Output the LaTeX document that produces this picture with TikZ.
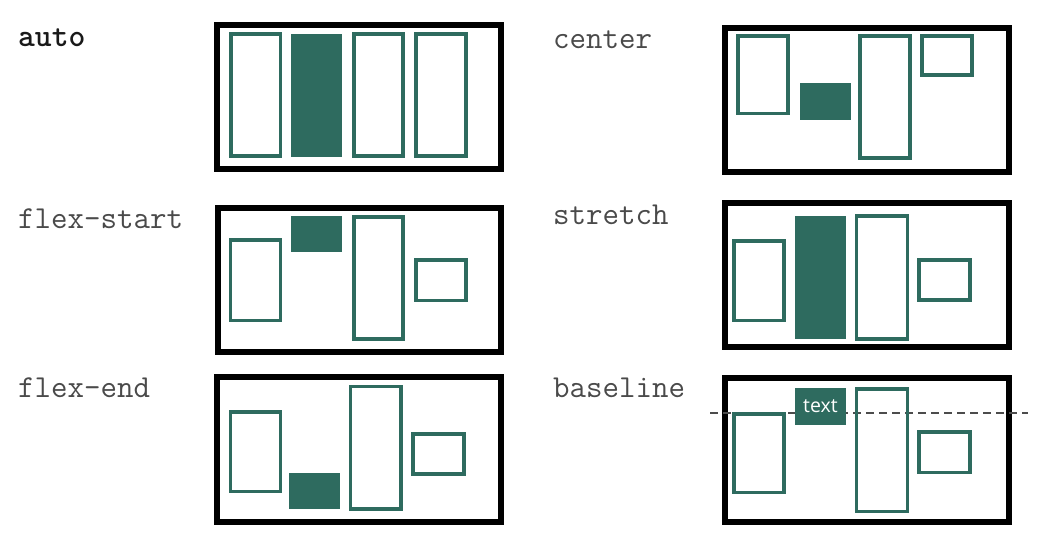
\documentclass[tikz,border=0pt]{standalone}
\usepackage{fontspec}
\newfontfamily\itemfont{Open Sans}
\definecolor{teal}{HTML}{2E6B5F}
\definecolor{lblgray}{HTML}{4A4A4A}
\tikzset{
  frame/.style={draw=black,line width=6pt},
  itembox/.style={draw=teal,line width=3.6pt},
  filledbox/.style={fill=teal},
  lbl/.style={anchor=base west,inner sep=0pt,text=lblgray,font=\fontsize{32}{34}\selectfont\ttfamily},
  basedash/.style={draw=black!70,line width=1.8pt,dash pattern=on 8pt off 5pt}
}
\begin{document}
\begin{tikzpicture}[x=1pt,y=-1pt]
\useasboundingbox (0,0) rectangle (1052,556);
% labels
\node[lbl,text=black!90,font=\fontsize{32}{34}\selectfont\ttfamily\bfseries] (lauto) at (18,46.7) {auto};
\node[lbl] (lcenter) at (553,48.3) {center};
\node[lbl] (lstart) at (18,228.3) {flex-start};
\node[lbl] (lstretch) at (553,225) {stretch};
\node[lbl] (lend) at (18,397.3) {flex-end};
\node[lbl] (lbase) at (553,397.3) {baseline};
% panel 1: auto
\draw[frame] (217,25.5) rectangle (501,169.5);
\draw[itembox] (231,34.3) rectangle (280.3,156.3);
\fill[filledbox] (290.7,34) rectangle (341.7,156.7);
\draw[itembox] (353.7,34.3) rectangle (403,156.3);
\draw[itembox] (415.7,34.3) rectangle (465.7,156.3);
% panel 2: center
\draw[frame] (725.3,28) rectangle (1009,172);
\draw[itembox] (738,36) rectangle (788,113.7);
\fill[filledbox] (800,83.3) rectangle (851,120);
\draw[itembox] (859.7,36) rectangle (909.7,158);
\draw[itembox] (922,36) rectangle (972,75.3);
% panel 3: flex-start
\draw[frame] (217.5,208) rectangle (501,352);
\draw[itembox] (230.3,240.3) rectangle (280.3,320.3);
\fill[filledbox] (290.7,216) rectangle (341.7,252.3);
\draw[itembox] (353.7,217) rectangle (403,339);
\draw[itembox] (415.7,259.7) rectangle (465.7,300.3);
% panel 4: stretch
\draw[frame] (724.7,203) rectangle (1009.3,347);
\draw[itembox] (733.7,241) rectangle (784,320.3);
\fill[filledbox] (795,215.7) rectangle (846,339.3);
\draw[itembox] (856.3,216) rectangle (907.3,339);
\draw[itembox] (918.7,259.7) rectangle (969.7,299.7);
% panel 5: flex-end
\draw[frame] (217,377) rectangle (501,521.7);
\draw[itembox] (230.3,412) rectangle (280.3,491.3);
\fill[filledbox] (289.3,472.7) rectangle (340,509);
\draw[itembox] (350.3,386.3) rectangle (400.7,509);
\draw[itembox] (412.7,433.7) rectangle (463.7,473.7);
% panel 6: baseline
\draw[frame] (725.3,377.5) rectangle (1008.7,521.7);
\coordinate (dashL) at (710,413.3);
\coordinate (dashR) at (1028,413.3);
\draw[basedash] (dashL) -- (dashR);
\draw[itembox] (733.7,413.7) rectangle (784,492.3);
\node[filledbox,minimum width=51pt,minimum height=36.7pt,inner sep=0pt,text=white,font=\fontsize{19.5}{20}\selectfont\itemfont] (textbox) at (820.5,406.65) {text};
\draw[itembox] (856.3,388.7) rectangle (907.3,511.3);
\draw[itembox] (918.7,432) rectangle (969.7,472.3);
\end{tikzpicture}
\end{document}
